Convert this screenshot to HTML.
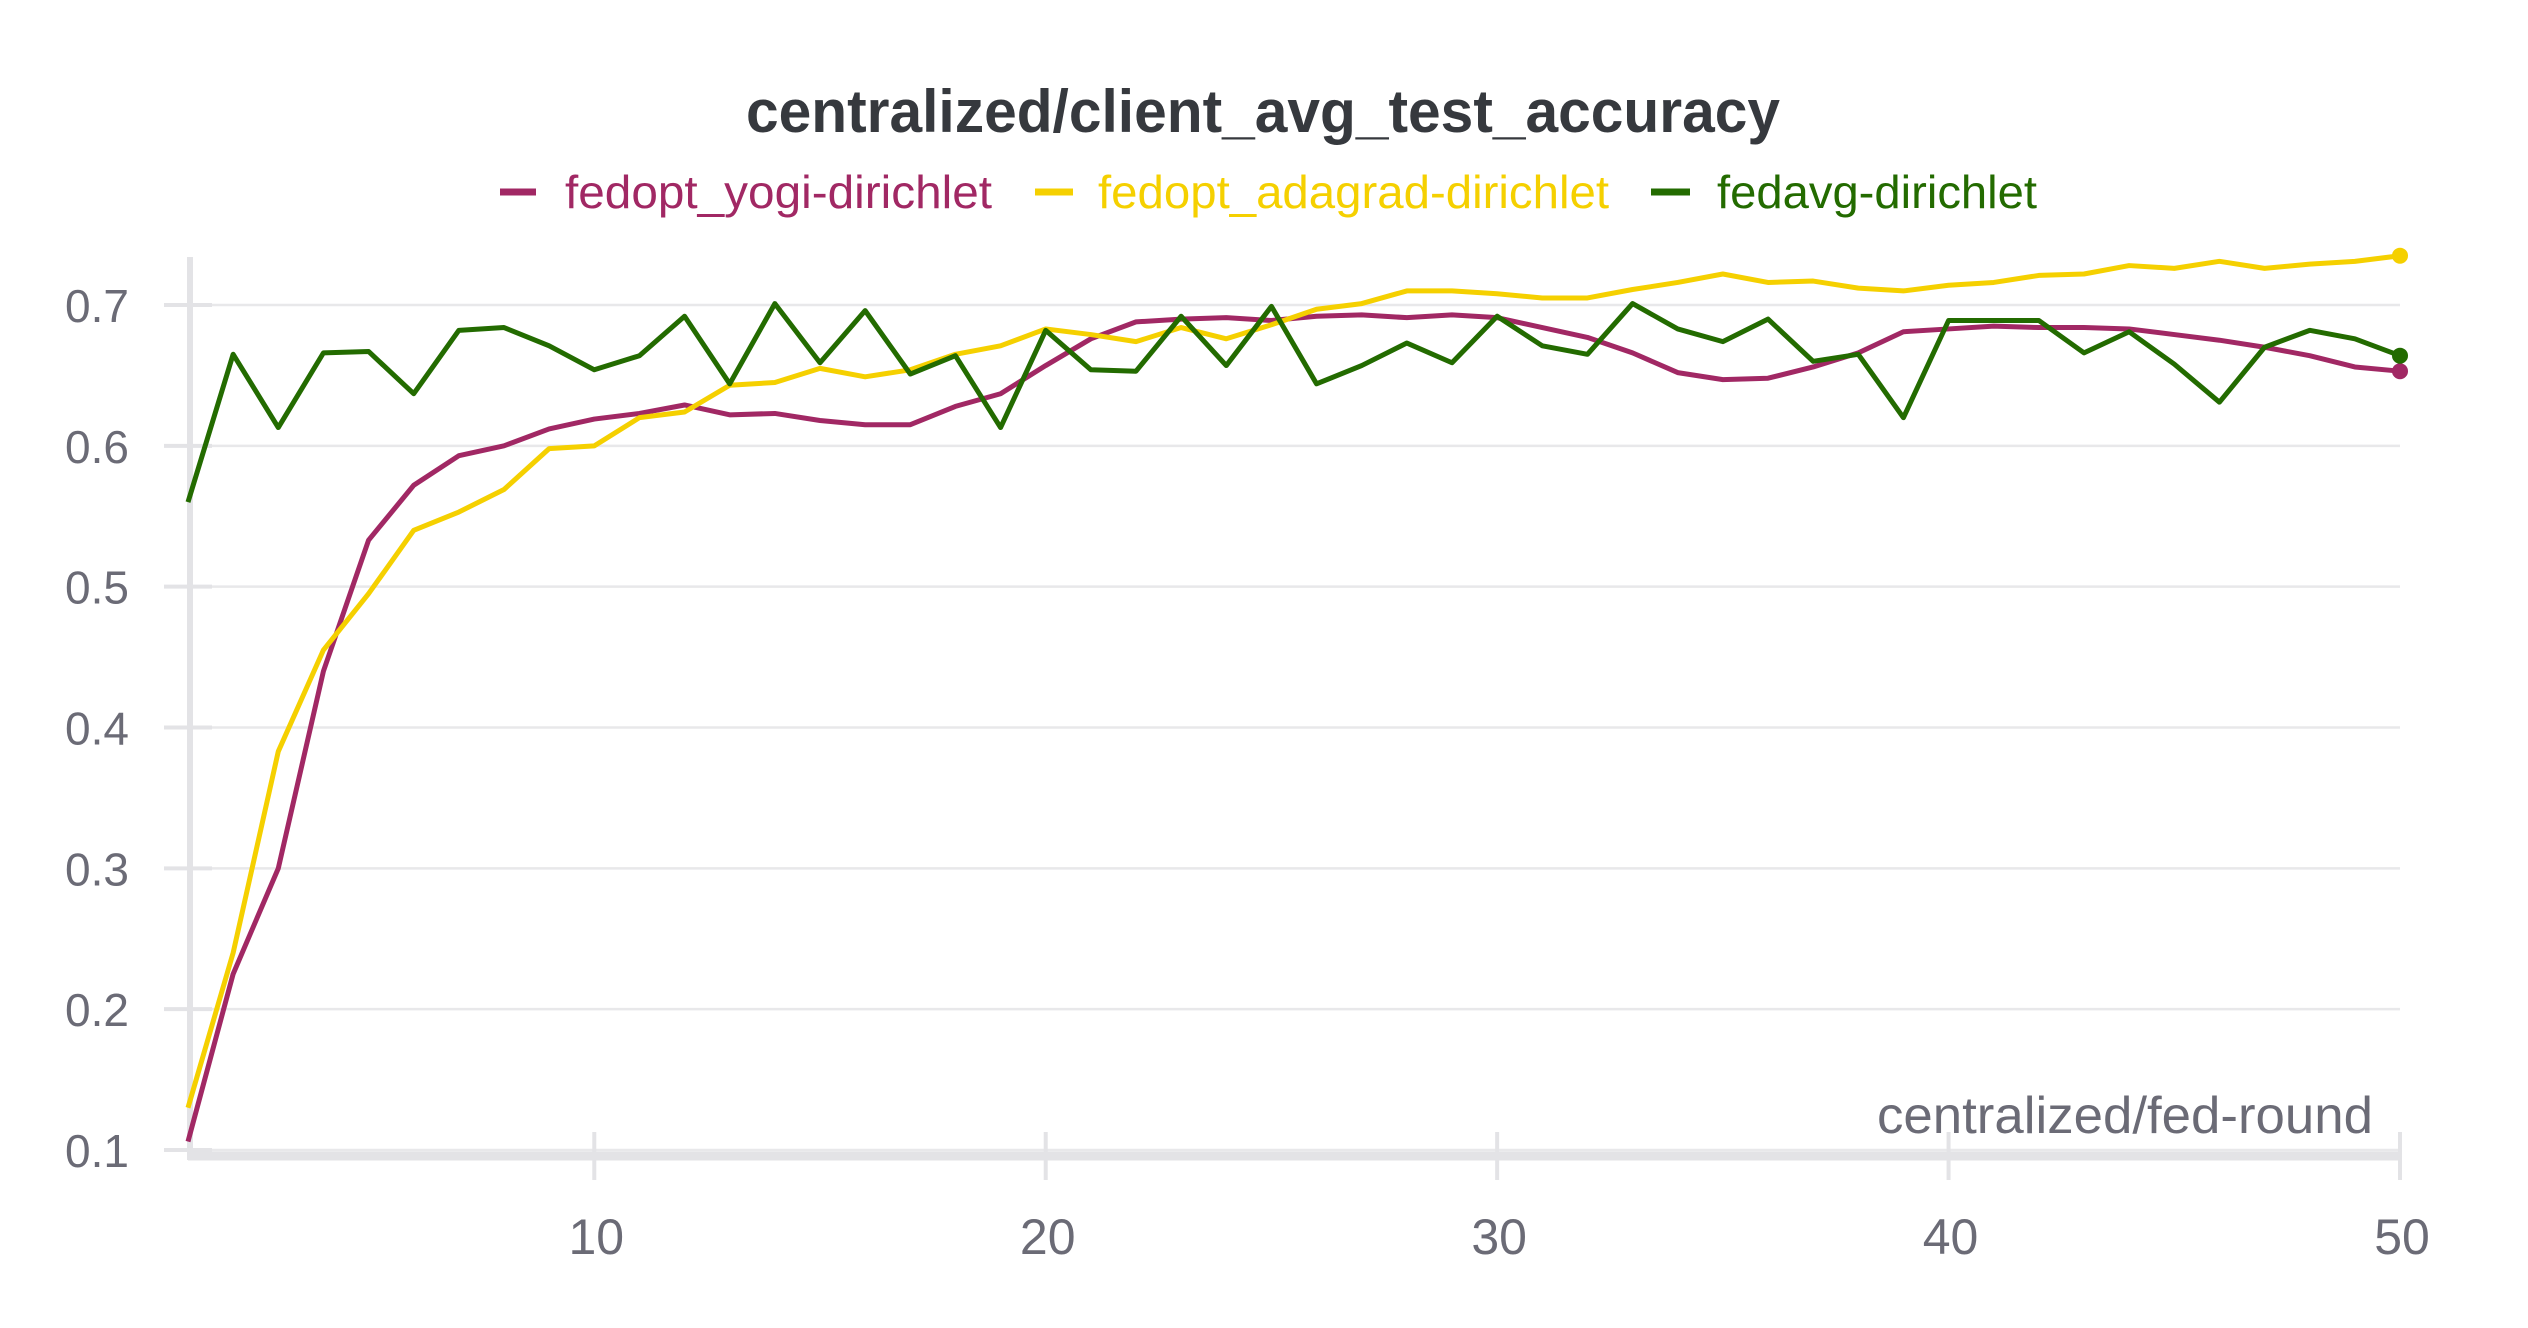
<!DOCTYPE html>
<html><head><meta charset="utf-8"><style>
html,body{margin:0;padding:0;background:#fff;width:2528px;height:1328px;overflow:hidden}
svg{display:block;font-family:"Liberation Sans",sans-serif}
</style></head><body>
<svg id="chart" width="2528" height="1328" viewBox="0 0 2528 1328" xmlns="http://www.w3.org/2000/svg">
<text x="746" y="132" textLength="1034" lengthAdjust="spacingAndGlyphs" font-size="60" font-weight="bold" fill="#36393e">centralized/client_avg_test_accuracy</text>
<g font-size="46">
 <g><line x1="500" y1="192" x2="536" y2="192" stroke="#a12864" stroke-width="7"/><text x="565" y="208" textLength="427" lengthAdjust="spacingAndGlyphs" fill="#a12864">fedopt_yogi-dirichlet</text></g>
 <g><line x1="1035" y1="192" x2="1073" y2="192" stroke="#f5d000" stroke-width="7"/><text x="1098" y="208" textLength="511" lengthAdjust="spacingAndGlyphs" fill="#f5d000">fedopt_adagrad-dirichlet</text></g>
 <g><line x1="1651" y1="192" x2="1690" y2="192" stroke="#236b00" stroke-width="7"/><text x="1717" y="208" textLength="320" lengthAdjust="spacingAndGlyphs" fill="#236b00">fedavg-dirichlet</text></g>
</g>
<g id="grid"></g><g id="axes"></g><g id="series"></g>
<text x="1877" y="1133" textLength="496" lengthAdjust="spacingAndGlyphs" font-size="52" fill="#6b6b76">centralized/fed-round</text>
</svg>
<script>
const rounds = Array.from({length:50},(_,i)=>i+1);
const yogi = [0.106,0.225,0.30,0.44,0.533,0.572,0.593,0.600,0.612,0.619,0.623,0.629,0.622,0.623,0.618,0.615,0.615,0.628,0.637,0.657,0.676,0.688,0.690,0.691,0.689,0.692,0.693,0.691,0.693,0.691,0.684,0.677,0.666,0.652,0.647,0.648,0.656,0.666,0.681,0.683,0.685,0.684,0.684,0.683,0.679,0.675,0.670,0.664,0.656,0.653];
const adagrad = [0.13,0.24,0.383,0.455,0.495,0.540,0.553,0.569,0.598,0.600,0.620,0.624,0.643,0.645,0.655,0.649,0.654,0.665,0.671,0.683,0.679,0.674,0.684,0.676,0.686,0.697,0.701,0.710,0.710,0.708,0.705,0.705,0.711,0.716,0.722,0.716,0.717,0.712,0.710,0.714,0.716,0.721,0.722,0.728,0.726,0.731,0.726,0.729,0.731,0.735];
const fedavg = [0.56,0.665,0.613,0.666,0.667,0.637,0.682,0.684,0.671,0.654,0.664,0.692,0.644,0.701,0.659,0.696,0.651,0.664,0.613,0.682,0.654,0.653,0.692,0.657,0.699,0.644,0.657,0.673,0.659,0.692,0.671,0.665,0.701,0.683,0.674,0.690,0.660,0.665,0.620,0.689,0.689,0.689,0.666,0.681,0.658,0.631,0.670,0.682,0.676,0.664];
const yTicks = [0.1,0.2,0.3,0.4,0.5,0.6,0.7];
const xTicks = [10,20,30,40,50];
const NS="http://www.w3.org/2000/svg";
const X = r => 188 + (r-1)*(2400-188)/49;
const Y = v => 1150 - (v-0.1)*(1150-305)/0.6;
function mk(tag, attrs, parent){const e=document.createElementNS(NS,tag);for(const k in attrs)e.setAttribute(k,attrs[k]);parent.appendChild(e);return e;}
const grid=document.getElementById('grid'), axes=document.getElementById('axes'), ser=document.getElementById('series');
yTicks.forEach(t=>{
 const g=mk('line',{x1:190,x2:2400,y1:Y(t),y2:Y(t),stroke:'#e8e8ea','stroke-width':2.5},grid);
 
 
 const tk=mk('line',{x1:164,x2:212,y1:Y(t),y2:Y(t),stroke:'#e3e3e6','stroke-width':4},axes);
 
 
 const l=mk('text',{x:129,y:Y(t)+17,'text-anchor':'end','font-size':46,fill:'#6b6b76'},axes);
 l.textContent=t.toFixed(1);
 
 
});
const ya=mk('line',{x1:190,x2:190,y1:257,y2:1160,stroke:'#e3e3e6','stroke-width':6},axes);


const xa=mk('line',{x1:188,x2:2402,y1:1156,y2:1156,stroke:'#e3e3e6','stroke-width':9},axes);


xTicks.forEach(t=>{
 const tk=mk('line',{x1:X(t),x2:X(t),y1:1132,y2:1180,stroke:'#e3e3e6','stroke-width':4},axes);
 
 
 const l=mk('text',{x:X(t)+2,y:1254,'text-anchor':'middle','font-size':50,fill:'#6b6b76'},axes);
 l.textContent=t;
 
 
});
[[yogi,'#a12864','yogi'],[adagrad,'#f5d000','adagrad'],[fedavg,'#236b00','fedavg']].forEach(([d,c,n])=>{
 const p=mk('polyline',{points:d.map((v,i)=>X(rounds[i])+','+Y(v)).join(' '),fill:'none',stroke:c,'stroke-width':5,'stroke-linejoin':'round'},ser);
 
 
 const dot=mk('circle',{cx:X(rounds[d.length-1]),cy:Y(d[d.length-1]),r:8,fill:c},ser);
 
 
});
</script>
</body></html>
